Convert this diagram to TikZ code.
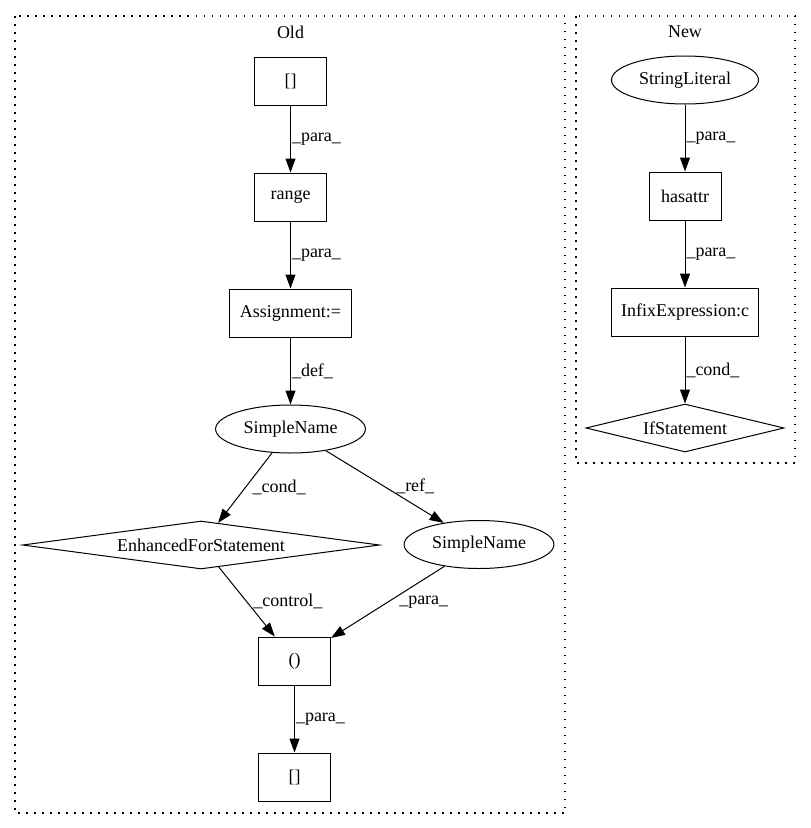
\documentclass[tikz,border=0pt]{standalone}
\usepackage{fontspec}
\setmainfont{Liberation Serif}
\usepackage{tikz}
\usetikzlibrary{arrows.meta,shapes.geometric,positioning}

\newcommand{\gvfont}{\fontsize{18pt}{21pt}\selectfont}

\begin{document}
\begin{tikzpicture}[x=1pt,y=-1pt,->,>={Triangle[length=14pt,width=10pt]},line width=1pt,node distance=116pt,
  box node/.style={rectangle,draw,font=\gvfont,minimum width=72pt,minimum height=48pt,inner xsep=10pt},
  name node/.style={ellipse,draw,font=\gvfont,minimum height=48pt,inner xsep=6pt,inner ysep=0pt},
  cond node/.style={diamond,draw,font=\gvfont,aspect=6,inner sep=0pt,minimum height=48pt},
  cluster/.style={draw,-,line width=1.3pt,dash pattern=on 1.5pt off 6.5pt},
  lbl/.style={font=\gvfont,anchor=west,inner sep=1pt}]

\useasboundingbox (0,0) rectangle (811,828);

% Rahmen fuer die beiden Teilgraphen
\draw[cluster] (15,16) rectangle (565,813);
\draw[cluster] (576,16) rectangle (795,463);
\node[font=\gvfont] (oldtitle) at (290.5,32) {Old};
\node[font=\gvfont] (newtitle) at (685,32) {New};

% Knoten im alten Graphen
\node[box node] (idx1) at (290.5,81) {[]};
\node[box node] (range) [below of=idx1] {range};
\node[box node] (assign) [below of=range] {Assignment:=};
\node[name node] (name1) [below of=assign] {SimpleName};
\node[cond node,minimum width=357pt] (forstmt) at (201,545) {EnhancedForStatement};
\node[name node] (name2) at (479,544.5) {SimpleName};
\node[box node] (call) at (294.5,661) {()};
\node[box node] (idx2) [below of=call] {[]};

% Knoten im neuen Graphen
\node[name node] (strlit) at (685,80) {StringLiteral};
\node[box node] (hasattr) [below of=strlit] {hasattr};
\node[box node] (infix) [below of=hasattr] {InfixExpression:c};
\node[cond node,minimum width=198pt] (ifstmt) [below of=infix] {IfStatement};

% Kanten
\path
  (idx1) edge node[lbl] {\_para\_} (range)
  (range) edge node[lbl] {\_para\_} (assign)
  (assign) edge node[lbl] {\_def\_} (name1)
  (name1) edge node[lbl,xshift=6pt] {\_cond\_} (forstmt)
  (name1) edge node[lbl,xshift=10pt] {\_ref\_} (name2)
  (forstmt) edge node[lbl,xshift=5pt] {\_control\_} (call)
  (name2) edge node[lbl,xshift=10pt] {\_para\_} (call)
  (call) edge node[lbl] {\_para\_} (idx2)
  (strlit) edge node[lbl] {\_para\_} (hasattr)
  (hasattr) edge node[lbl] {\_para\_} (infix)
  (infix) edge node[lbl] {\_cond\_} (ifstmt)
;
\end{tikzpicture}
\end{document}
